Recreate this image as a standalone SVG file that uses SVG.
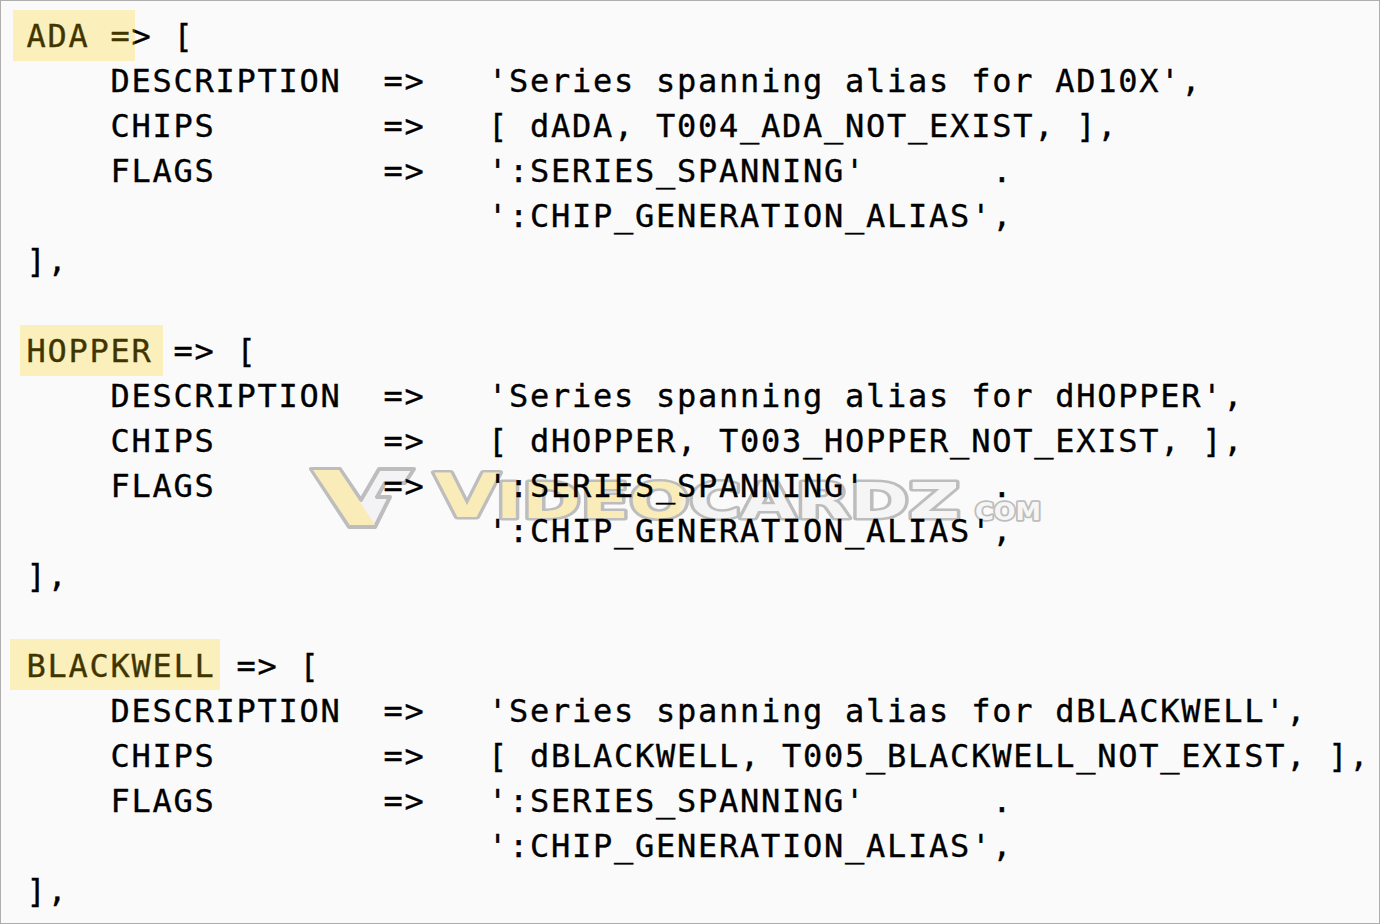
<svg xmlns="http://www.w3.org/2000/svg" width="1380" height="924" viewBox="0 0 1380 924">
<style>
text{font-family:"DejaVu Sans Mono","Liberation Mono",monospace;font-size:32px;letter-spacing:1.74px;fill:#000;stroke:#000;stroke-width:.35px;white-space:pre}
.hl{fill:#ffd400;fill-opacity:.25}
.wm{font-family:"DejaVu Sans","Liberation Sans",sans-serif;font-weight:700;letter-spacing:0;fill:url(#wg);stroke:#bdbdbd;stroke-width:5px;stroke-linejoin:round;paint-order:stroke}
.logo{stroke:#bdbdbd;stroke-width:4;stroke-linejoin:round}
</style>
<defs>
<linearGradient id="wg" gradientUnits="userSpaceOnUse" x1="432" y1="0" x2="1045" y2="0">
<stop offset="0" stop-color="#faecb8"/><stop offset=".4" stop-color="#faecb8"/><stop offset=".42" stop-color="#f4f4f4"/><stop offset="1" stop-color="#f6f6f6"/>
</linearGradient>
</defs>
<rect x=".5" y=".5" width="1379" height="923" fill="#fafafa" stroke="#b0adad"/>
<g id="watermark">
<path class="logo" fill="#f3f3f5" d="M311 469H340L361 500L379 469H414L405 483H385L377 497H390L375 527H349Z"/>
<path fill="#faecb8" d="M313 470H339L375 525H350Z"/>
<text class="wm" x="434" y="517" style="font-size:60px" textLength="66" lengthAdjust="spacingAndGlyphs">V</text>
<text class="wm" x="496" y="518" style="font-size:50px" textLength="464" lengthAdjust="spacingAndGlyphs">IDEOCARDZ</text>
<text class="wm" x="975" y="520" style="font-size:24px;stroke-width:3.5px" textLength="66" lengthAdjust="spacingAndGlyphs">COM</text>
</g>
<g id="ada">
<text x="26.5" y="46.5">ADA</text><text x="110.5" y="46.5">=&gt;</text><text x="173.5" y="46.5">[</text>
<text x="110.5" y="91.5">DESCRIPTION</text><text x="383.5" y="91.5">=&gt;</text><text x="488" y="91.5">'Series spanning alias for AD10X',</text>
<text x="110.5" y="136.5">CHIPS</text><text x="383.5" y="136.5">=&gt;</text><text x="488" y="136.5">[ dADA, T004_ADA_NOT_EXIST, ],</text>
<text x="110.5" y="181.5">FLAGS</text><text x="383.5" y="181.5">=&gt;</text><text x="488" y="181.5">':SERIES_SPANNING'      .</text>
<text x="488" y="226.5">':CHIP_GENERATION_ALIAS',</text>
<text x="26.5" y="271.5">],</text>
<rect class="hl" x="13" y="10" width="122" height="51"/>
</g>
<g id="hopper">
<text x="26.5" y="361.5">HOPPER</text><text x="173.5" y="361.5">=&gt;</text><text x="236.5" y="361.5">[</text>
<text x="110.5" y="406.5">DESCRIPTION</text><text x="383.5" y="406.5">=&gt;</text><text x="488" y="406.5">'Series spanning alias for dHOPPER',</text>
<text x="110.5" y="451.5">CHIPS</text><text x="383.5" y="451.5">=&gt;</text><text x="488" y="451.5">[ dHOPPER, T003_HOPPER_NOT_EXIST, ],</text>
<text x="110.5" y="496.5">FLAGS</text><text x="383.5" y="496.5">=&gt;</text><text x="488" y="496.5">':SERIES_SPANNING'      .</text>
<text x="488" y="541.5">':CHIP_GENERATION_ALIAS',</text>
<text x="26.5" y="586.5">],</text>
<rect class="hl" x="20" y="325" width="143" height="51"/>
</g>
<g id="blackwell">
<text x="26.5" y="676.5">BLACKWELL</text><text x="236.5" y="676.5">=&gt;</text><text x="299.5" y="676.5">[</text>
<text x="110.5" y="721.5">DESCRIPTION</text><text x="383.5" y="721.5">=&gt;</text><text x="488" y="721.5">'Series spanning alias for dBLACKWELL',</text>
<text x="110.5" y="766.5">CHIPS</text><text x="383.5" y="766.5">=&gt;</text><text x="488" y="766.5">[ dBLACKWELL, T005_BLACKWELL_NOT_EXIST, ],</text>
<text x="110.5" y="811.5">FLAGS</text><text x="383.5" y="811.5">=&gt;</text><text x="488" y="811.5">':SERIES_SPANNING'      .</text>
<text x="488" y="856.5">':CHIP_GENERATION_ALIAS',</text>
<text x="26.5" y="901.5">],</text>
<rect class="hl" x="10" y="639" width="210" height="51"/>
</g>
</svg>
